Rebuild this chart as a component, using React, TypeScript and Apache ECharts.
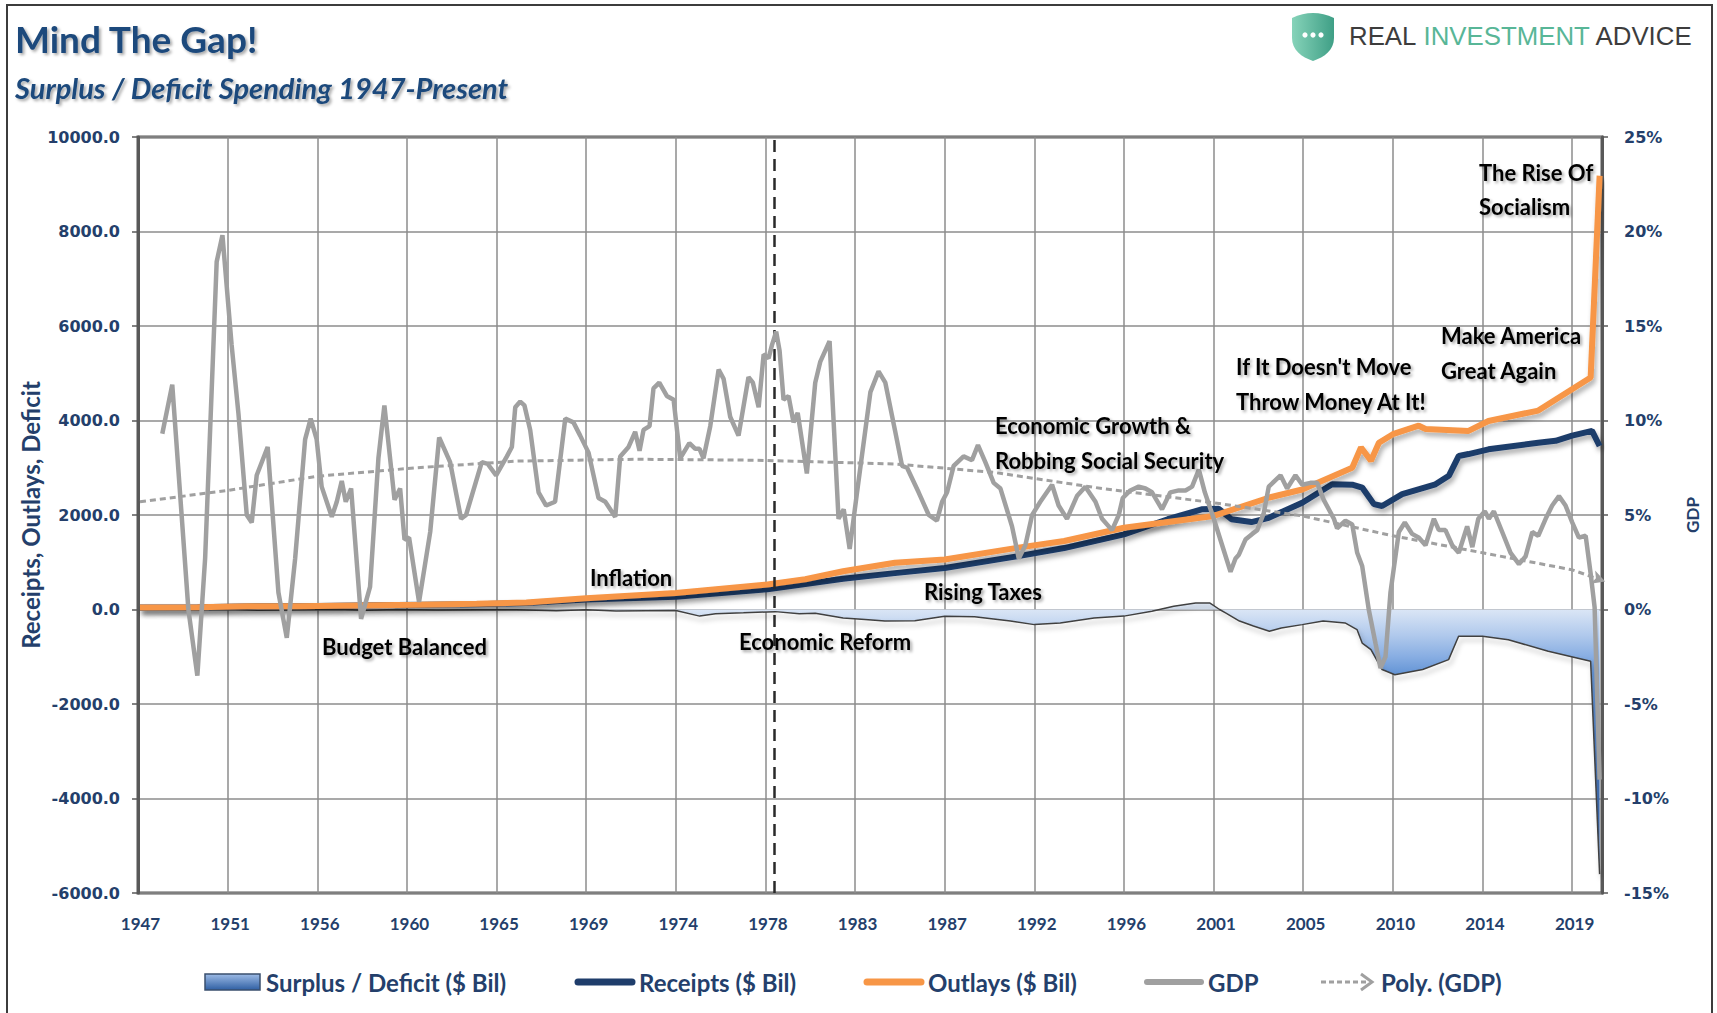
import React, { useEffect, useRef } from "react";
import * as echarts from "echarts";

// ---------- axis definitions ----------
const FIRST_YEAR = 1947;
const QUARTER_COUNT = 294; // 1947Q1 .. 2020Q2
const LABEL_EVERY_QUARTERS = 18;
const LEFT_AXIS = { min: -6000, max: 10000, step: 2000 };
const RIGHT_AXIS = { min: -15, max: 25, step: 5 };
const REFORM_MARKER_YEAR = 1978.94;

// ---------- data: [year, value] ----------
const GDP_GROWTH: [number, number][] = [
  [1948.22, 9.3], [1948.72, 11.9], [1949.53, 0.0], [1949.98, -3.5], [1950.37, 2.7], [1950.95, 18.4],
  [1951.24, 19.8], [1951.7, 14.0], [1952.04, 10.4], [1952.46, 5.0], [1952.71, 4.6], [1952.96, 7.1],
  [1953.51, 8.6], [1954.05, 0.9], [1954.47, -1.5], [1954.89, 2.7], [1955.39, 9.0], [1955.67, 10.1],
  [1955.97, 9.0], [1956.22, 6.5], [1956.73, 4.9], [1956.98, 5.7], [1957.23, 6.8], [1957.43, 5.7],
  [1957.7, 6.4], [1958.2, -0.5], [1958.65, 1.2], [1959.07, 8.0], [1959.37, 10.8], [1959.88, 5.8],
  [1960.16, 6.4], [1960.38, 3.7], [1960.61, 3.8], [1961.11, 0.4], [1961.67, 4.1], [1962.12, 9.1],
  [1962.67, 7.8], [1963.22, 4.8], [1963.47, 5.0], [1964.26, 7.8], [1964.56, 7.7], [1964.98, 7.1],
  [1965.52, 8.1], [1965.77, 8.6], [1965.94, 10.7], [1966.19, 11.0], [1966.4, 10.8], [1966.69, 9.5],
  [1967.11, 6.2], [1967.49, 5.5], [1967.94, 5.7], [1968.45, 10.1], [1968.86, 9.9], [1969.2, 9.2],
  [1969.62, 8.3], [1970.12, 5.9], [1970.46, 5.7], [1970.96, 4.9], [1971.21, 8.1], [1971.63, 8.6],
  [1971.96, 9.4], [1972.18, 8.4], [1972.38, 9.5], [1972.68, 9.7], [1972.88, 11.7], [1973.17, 12.0],
  [1973.55, 11.3], [1973.89, 11.1], [1974.22, 8.0], [1974.68, 8.8], [1974.98, 8.5], [1975.19, 8.5],
  [1975.39, 8.0], [1975.73, 9.7], [1976.15, 12.7], [1976.4, 12.2], [1976.73, 10.2], [1977.15, 9.2],
  [1977.65, 12.3], [1977.87, 12.0], [1978.16, 10.7], [1978.41, 13.5], [1978.66, 13.3], [1978.83, 14.0],
  [1979.04, 14.7], [1979.21, 13.7], [1979.41, 11.1], [1979.66, 11.3], [1979.91, 9.9], [1980.12, 10.4],
  [1980.58, 7.2], [1981.0, 12.0], [1981.25, 13.1], [1981.72, 14.2], [1982.17, 4.8], [1982.43, 5.3],
  [1982.73, 3.2], [1983.1, 6.2], [1983.77, 11.5], [1984.18, 12.6], [1984.52, 12.0], [1985.02, 9.4],
  [1985.36, 7.6], [1985.61, 7.5], [1986.19, 6.2], [1986.7, 5.0], [1987.11, 4.7], [1987.37, 5.7],
  [1987.62, 6.2], [1987.95, 7.6], [1988.45, 8.1], [1988.87, 7.9], [1989.17, 8.7], [1989.54, 7.8],
  [1989.96, 6.7], [1990.3, 6.4], [1990.88, 4.4], [1991.22, 2.7], [1991.55, 3.4], [1991.89, 5.0],
  [1992.3, 5.7], [1992.89, 6.6], [1993.22, 5.5], [1993.64, 4.8], [1994.14, 6.0], [1994.56, 6.5],
  [1995.07, 5.7], [1995.4, 4.8], [1995.9, 4.2], [1996.24, 5.0], [1996.44, 5.9], [1996.82, 6.3],
  [1997.24, 6.5], [1997.58, 6.4], [1997.91, 6.2], [1998.41, 5.3], [1998.83, 6.2], [1999.25, 6.3],
  [1999.59, 6.3], [1999.92, 6.5], [2000.26, 7.4], [2000.56, 6.2], [2001.01, 4.8], [2001.43, 3.4],
  [2001.85, 2.0], [2002.1, 2.7], [2002.27, 2.9], [2002.6, 3.7], [2002.94, 4.0], [2003.19, 4.2],
  [2003.52, 5.1], [2003.77, 6.5], [2004.36, 7.1], [2004.69, 6.4], [2005.11, 7.1], [2005.45, 6.6],
  [2005.86, 6.7], [2006.2, 6.7], [2006.53, 5.8], [2007.04, 4.8], [2007.2, 4.3], [2007.62, 4.7],
  [2007.96, 4.5], [2008.21, 3.0], [2008.46, 2.3], [2008.79, 0.0], [2009.13, -1.8], [2009.38, -3.1],
  [2009.63, -2.5], [2009.88, 0.9], [2010.3, 4.1], [2010.6, 4.6], [2010.97, 4.0], [2011.31, 3.8],
  [2011.64, 3.4], [2012.06, 4.8], [2012.31, 4.2], [2012.64, 4.2], [2012.98, 3.4], [2013.31, 3.0],
  [2013.73, 4.4], [2013.99, 3.3], [2014.29, 4.8], [2014.62, 5.2], [2014.82, 4.8], [2015.07, 5.2],
  [2015.49, 4.1], [2015.91, 3.0], [2016.33, 2.4], [2016.66, 2.8], [2017.0, 4.1], [2017.3, 3.9],
  [2017.67, 4.8], [2018.0, 5.5], [2018.34, 6.0], [2018.67, 5.5], [2019.01, 4.6], [2019.34, 3.8],
  [2019.68, 3.9], [2019.93, 1.9], [2020.13, 0.1], [2020.38, -9.0],
];

const GDP_TREND: [number, number][] = [
  [1947.1, 5.7], [1951.5, 6.3], [1956.0, 7.05], [1961.0, 7.5], [1966.0, 7.85], [1972.0, 7.95],
  [1978.0, 7.9], [1985.0, 7.7], [1990.0, 7.25], [1995.4, 6.4], [2001.0, 5.65], [2005.45, 4.95],
  [2010.0, 3.9], [2014.5, 3.0], [2019.0, 2.1], [2020.35, 1.6],
];

const RECEIPTS: [number, number][] = [
  [1947.1, 42], [1950.0, 45], [1953.0, 68], [1956.0, 76], [1960.0, 93], [1964.0, 112], [1966.5, 135],
  [1969.5, 210], [1974.0, 270], [1978.6, 430], [1980.5, 540], [1982.4, 650], [1985.0, 770],
  [1987.5, 880], [1991.2, 1130], [1993.5, 1300], [1996.5, 1590], [1998.7, 1910], [2000.4, 2120],
  [2001.26, 2130], [2001.9, 1910], [2002.9, 1850], [2003.77, 1940], [2005.45, 2260], [2006.95, 2650],
  [2008.0, 2640], [2008.46, 2580], [2009.05, 2230], [2009.46, 2190], [2010.47, 2440], [2012.14, 2650],
  [2012.81, 2830], [2013.31, 3250], [2013.8, 3290], [2014.8, 3390], [2017.3, 3530], [2018.17, 3570],
  [2019.0, 3680], [2020.0, 3780], [2020.38, 3460],
];

const OUTLAYS: [number, number][] = [
  [1947.1, 40], [1950.0, 45], [1952.5, 70], [1955.0, 70], [1958.0, 85], [1961.0, 100], [1964.0, 120],
  [1966.5, 150], [1969.5, 240], [1974.0, 350], [1978.6, 530], [1980.5, 640], [1982.4, 810],
  [1985.0, 990], [1987.5, 1060], [1991.2, 1310], [1993.5, 1450], [1996.5, 1730], [1998.5, 1840],
  [2001.0, 1980], [2003.8, 2370], [2005.45, 2540], [2007.96, 3000], [2008.4, 3430], [2008.9, 3150],
  [2009.3, 3530], [2010.0, 3710], [2011.3, 3890], [2011.64, 3820], [2013.8, 3780], [2014.8, 3990],
  [2017.3, 4210], [2019.93, 4910], [2020.38, 9180],
];

const SURPLUS_DEFICIT: [number, number][] = [
  [1947.1, 15], [1948.5, 10], [1950.0, -5], [1951.5, 5], [1953.0, -15], [1955.0, -5], [1957.0, 5],
  [1958.5, -15], [1960.0, 0], [1962.0, -10], [1964.0, -5], [1966.0, -5], [1968.0, -25], [1969.5, -5],
  [1971.0, -30], [1972.5, -25], [1974.0, -20], [1975.2, -140], [1976.0, -90], [1977.4, -70],
  [1979.0, -45], [1980.2, -90], [1981.0, -80], [1982.4, -180], [1983.5, -210], [1984.5, -245],
  [1986.0, -240], [1987.5, -145], [1989.0, -155], [1990.8, -245], [1992.0, -320], [1993.3, -285],
  [1995.0, -180], [1996.5, -140], [1997.9, -35], [1999.0, 70], [2000.1, 140], [2000.8, 140],
  [2001.3, 0], [2001.6, -70], [2002.3, -245], [2003.0, -350], [2003.8, -460], [2004.4, -390],
  [2005.45, -320], [2006.5, -245], [2007.6, -285], [2008.2, -425], [2008.46, -710], [2008.9, -850],
  [2009.46, -1270], [2010.1, -1380], [2011.5, -1270], [2012.8, -1060], [2013.3, -565], [2014.5, -565],
  [2015.8, -640], [2017.8, -885], [2019.93, -1095], [2020.38, -5600],
];

const SERIES_NAMES = ["Surplus / Deficit ($ Bil)", "Receipts ($ Bil)", "Outlays ($ Bil)", "GDP", "Poly. (GDP)"];
const TITLE = "Mind The Gap!";
const SUBTITLE = "Surplus / Deficit Spending 1947-Present";
const LEFT_AXIS_NAME = "Receipts, Outlays, Deficit";
const RIGHT_AXIS_NAME = "GDP";

const ANNOTATION_LAYOUT = [
  { text: "Budget Balanced", x: 322, y: 646 },
  { text: "Inflation", x: 590, y: 577 },
  { text: "Economic Reform", x: 739, y: 641 },
  { text: "Rising Taxes", x: 924, y: 591 },
  { text: "Economic Growth &", x: 995, y: 425 },
  { text: "Robbing Social Security", x: 995, y: 460 },
  { text: "If It Doesn't Move", x: 1236, y: 366 },
  { text: "Throw Money At It!", x: 1236, y: 401 },
  { text: "Make America", x: 1441, y: 335 },
  { text: "Great Again", x: 1441, y: 370 },
  { text: "The Rise Of", x: 1479, y: 172 },
  { text: "Socialism", x: 1479, y: 206 },
];

// ---------- styles ----------
const NAVY = "#1f3d6b";
const ORANGE = "#f79646";
const GREY = "#a0a0a0";
const LABEL_BLUE = "#243f6b";
const GRID_GREY = "#8c8c8c";
const FRAME_GREY = "#595959";
const CAL = "Lato, 'Noto Sans', sans-serif";
const LOGO_FONT = "'Liberation Sans', Arial, sans-serif";

const SHIELD_PATH = "M0 5 Q10 0 20 0 Q30 0 40 5 L40 25 C40 37 31 44 20 48 C9 44 0 37 0 25 Z";
echarts.graphic.registerShape("riaShield", echarts.graphic.extendPath(SHIELD_PATH, {}));

const toQ = (year: number) => (year - FIRST_YEAR) * 4;
const toPoints = (arr: [number, number][]) => arr.map(([y, v]) => [toQ(y), v]);

const lineShadow = {
  shadowColor: "rgba(0,0,0,0.32)",
  shadowBlur: 5,
  shadowOffsetX: 2,
  shadowOffsetY: 4,
};

function text(t: string, x: number, y: number, o: any = {}) {
  return {
    type: "text",
    x,
    y,
    z: 100,
    silent: true,
    rotation: o.rotation ?? 0,
    style: {
      text: t,
      fill: o.fill ?? "#000000",
      fontFamily: o.fontFamily ?? CAL,
      fontSize: o.fontSize ?? 22,
      fontWeight: o.fontWeight ?? "bold",
      fontStyle: o.fontStyle ?? "normal",
      align: o.align ?? "left",
      textAlign: o.align ?? "left",
      verticalAlign: "middle",
      textVerticalAlign: "middle",
      textShadowColor: o.shadow === false ? "transparent" : "rgba(0,0,0,0.35)",
      textShadowBlur: o.shadow === false ? 0 : 3,
      textShadowOffsetX: o.shadow === false ? 0 : 2,
      textShadowOffsetY: o.shadow === false ? 0 : 2,
      rich: o.rich,
    },
  };
}

function buildOption() {
  const trendPts = toPoints(GDP_TREND);
  const trendData = trendPts.map((p, i) =>
    i === trendPts.length - 1
      ? {
          value: p,
          symbol: "path://M0,0 L12,7 L0,14 L3,7 Z",
          symbolSize: [13, 14],
          symbolRotate: -19,
          itemStyle: { color: "#a0a0a0" },
        }
      : { value: p }
  );

  const areaGradient = new echarts.graphic.LinearGradient(0, 0, 0, 1, [
    { offset: 0, color: "#e3ecf8" },
    { offset: 0.03, color: "#d8e4f5" },
    { offset: 0.12, color: "#b0c9ec" },
    { offset: 0.2, color: "#87ade2" },
    { offset: 0.26, color: "#6595d6" },
    { offset: 1, color: "#2c5aa0" },
  ]);

  const legendY = 982;
  const legendFont = 24;
  const graphic: any[] = [
    {
      type: "rect",
      silent: true,
      z: 1,
      shape: { x: 7, y: 5, width: 1705, height: 1100 },
      style: { fill: "none", stroke: "#3c3c3c", lineWidth: 2 },
    },
    text(TITLE, 15, 38, { fontSize: 37, fill: "#1f4a7c" }),
    text(SUBTITLE, 15, 87, { fontSize: 29, fill: "#1f4a7c", fontStyle: "italic" }),
    // logo
    {
      type: "riaShield",
      x: 1292,
      y: 13,
      scaleX: 1.05,
      scaleY: 1,
      silent: true,
      z: 100,
      style: {
        fill: new echarts.graphic.LinearGradient(0, 0, 1, 0, [
          { offset: 0, color: "#86d3b9" },
          { offset: 1, color: "#3f9f86" },
        ]),
      },
    },
    { type: "circle", silent: true, z: 101, shape: { cx: 1305, cy: 35, r: 2.6 }, style: { fill: "#ffffff" } },
    { type: "circle", silent: true, z: 101, shape: { cx: 1313, cy: 35, r: 2.6 }, style: { fill: "#ffffff" } },
    { type: "circle", silent: true, z: 101, shape: { cx: 1321, cy: 35, r: 2.6 }, style: { fill: "#ffffff" } },
    text("{d|REAL }{t|INVESTMENT}{d| ADVICE}", 1349, 36, {
      fontFamily: LOGO_FONT,
      fontSize: 25.8,
      fontWeight: "normal",
      shadow: false,
      fill: "#3d3d3d",
      rich: {
        d: { fill: "#3d3d3d", fontSize: 25.8, fontFamily: LOGO_FONT },
        t: { fill: "#58b697", fontSize: 25.8, fontFamily: LOGO_FONT },
      },
    }),
    // axis titles
    text(LEFT_AXIS_NAME, 30, 515, { rotation: Math.PI / 2, align: "center", fontSize: 24, fill: LABEL_BLUE, shadow: false }),
    text(RIGHT_AXIS_NAME, 1692, 515, { rotation: Math.PI / 2, align: "center", fontSize: 17, fill: LABEL_BLUE, shadow: false }),
    // legend
    {
      type: "rect",
      silent: true,
      z: 100,
      shape: { x: 205, y: legendY - 8, width: 55, height: 16 },
      style: {
        fill: new echarts.graphic.LinearGradient(0, 0, 0, 1, [
          { offset: 0, color: "#9dbbe6" },
          { offset: 1, color: "#2f5fa3" },
        ]),
        stroke: "#3a4f6e",
        lineWidth: 1.5,
      },
    },
    text(SERIES_NAMES[0], 266, legendY, { fontSize: legendFont, fill: LABEL_BLUE, shadow: false }),
    { type: "line", silent: true, z: 100, shape: { x1: 578, y1: legendY, x2: 632, y2: legendY }, style: { stroke: NAVY, lineWidth: 7, lineCap: "round" } },
    text(SERIES_NAMES[1], 639, legendY, { fontSize: legendFont, fill: LABEL_BLUE, shadow: false }),
    { type: "line", silent: true, z: 100, shape: { x1: 867, y1: legendY, x2: 921, y2: legendY }, style: { stroke: ORANGE, lineWidth: 7, lineCap: "round" } },
    text(SERIES_NAMES[2], 928, legendY, { fontSize: legendFont, fill: LABEL_BLUE, shadow: false }),
    { type: "line", silent: true, z: 100, shape: { x1: 1147, y1: legendY, x2: 1201, y2: legendY }, style: { stroke: GREY, lineWidth: 6, lineCap: "round" } },
    text(SERIES_NAMES[3], 1208, legendY, { fontSize: legendFont, fill: LABEL_BLUE, shadow: false }),
    { type: "line", silent: true, z: 100, shape: { x1: 1321, y1: legendY, x2: 1366, y2: legendY }, style: { stroke: "#a0a0a0", lineWidth: 3, lineDash: [5, 3] } },
    { type: "polyline", silent: true, z: 100, shape: { points: [[1361, legendY - 8], [1372, legendY], [1361, legendY + 8]] }, style: { stroke: "#a0a0a0", lineWidth: 3, fill: "none" } },
    text(SERIES_NAMES[4], 1381, legendY, { fontSize: legendFont, fill: LABEL_BLUE, shadow: false }),
    ...ANNOTATION_LAYOUT.map((a) => text(a.text, a.x, a.y, { fontSize: 22 })),
  ];

  return {
    animation: false,
    backgroundColor: "#ffffff",
    grid: {
      left: 138,
      right: 115,
      top: 137,
      bottom: 120,
      show: true,
      borderColor: FRAME_GREY,
      borderWidth: 3,
      backgroundColor: "transparent",
    },
    xAxis: {
      type: "value",
      min: 0,
      max: QUARTER_COUNT,
      interval: LABEL_EVERY_QUARTERS,
      axisLine: { show: false },
      axisTick: { show: false },
      splitLine: { show: true, lineStyle: { color: GRID_GREY, width: 1.5 } },
      axisLabel: {
        showMaxLabel: false,
        margin: 22,
        padding: [0, 0, 0, 5],
        color: LABEL_BLUE,
        fontFamily: CAL,
        fontWeight: "bold",
        fontSize: 17,
        formatter: (v: number) =>
          v % LABEL_EVERY_QUARTERS === 0 && v < QUARTER_COUNT ? String(FIRST_YEAR + Math.floor(v / 4)) : "",
      },
    },
    yAxis: [
      {
        type: "value",
        position: "left",
        min: LEFT_AXIS.min,
        max: LEFT_AXIS.max,
        interval: LEFT_AXIS.step,
        axisLine: { show: true, lineStyle: { color: FRAME_GREY, width: 3 } },
        axisTick: { show: true, length: 6, lineStyle: { color: FRAME_GREY, width: 1.5 } },
        splitLine: { show: true, lineStyle: { color: GRID_GREY, width: 1.5 } },
        axisLabel: {
          margin: 18,
          color: LABEL_BLUE,
          fontFamily: "'DejaVu Sans', Verdana, sans-serif",
          fontWeight: "bold",
          fontSize: 16,
          formatter: (v: number) => v.toFixed(1),
        },
      },
      {
        type: "value",
        position: "right",
        min: RIGHT_AXIS.min,
        max: RIGHT_AXIS.max,
        interval: RIGHT_AXIS.step,
        axisLine: { show: true, lineStyle: { color: FRAME_GREY, width: 3 } },
        axisTick: { show: true, length: 6, lineStyle: { color: FRAME_GREY, width: 1.5 } },
        splitLine: { show: false },
        axisLabel: {
          margin: 22,
          color: LABEL_BLUE,
          fontFamily: "'DejaVu Sans', Verdana, sans-serif",
          fontWeight: "bold",
          fontSize: 16,
          formatter: (v: number) => `${v}%`,
        },
      },
    ],
    series: [
      {
        name: SERIES_NAMES[0],
        type: "line",
        yAxisIndex: 0,
        data: toPoints(SURPLUS_DEFICIT),
        symbol: "none",
        z: 2,
        lineStyle: { color: "#404040", width: 1.5, ...lineShadow },
        areaStyle: { color: areaGradient, opacity: 1 },
        markLine: {
          silent: true,
          symbol: "none",
          label: { show: false },
          lineStyle: { color: "#2a2a2a", type: [12, 7], width: 2.5 },
          data: [{ xAxis: toQ(REFORM_MARKER_YEAR) }],
        },
      },
      {
        name: SERIES_NAMES[1],
        type: "line",
        yAxisIndex: 0,
        data: toPoints(RECEIPTS),
        symbol: "none",
        z: 3,
        lineStyle: { color: NAVY, width: 6, ...lineShadow },
      },
      {
        name: SERIES_NAMES[2],
        type: "line",
        yAxisIndex: 0,
        data: toPoints(OUTLAYS),
        symbol: "none",
        z: 4,
        lineStyle: { color: ORANGE, width: 6, ...lineShadow },
      },
      {
        name: SERIES_NAMES[3],
        type: "line",
        yAxisIndex: 1,
        data: toPoints(GDP_GROWTH),
        symbol: "none",
        z: 5,
        lineStyle: { color: GREY, width: 4.5 },
      },
      {
        name: SERIES_NAMES[4],
        type: "line",
        yAxisIndex: 1,
        data: trendData,
        symbol: "none",
        showSymbol: true,
        z: 6,
        itemStyle: { color: "#a0a0a0" },
        lineStyle: { color: "#a0a0a0", width: 3, type: [6, 4] },
      },
    ],
    graphic,
  };
}

export default function App() {
  const ref = useRef<HTMLDivElement>(null);
  useEffect(() => {
    document.body.style.margin = "0";
    const chart = echarts.init(ref.current as HTMLDivElement, undefined, { renderer: "svg" });
    chart.setOption(buildOption() as any);
    return () => {
      chart.dispose();
    };
  }, []);
  return <div ref={ref} style={{ width: 1717, height: 1013, background: "#ffffff" }} />;
}
